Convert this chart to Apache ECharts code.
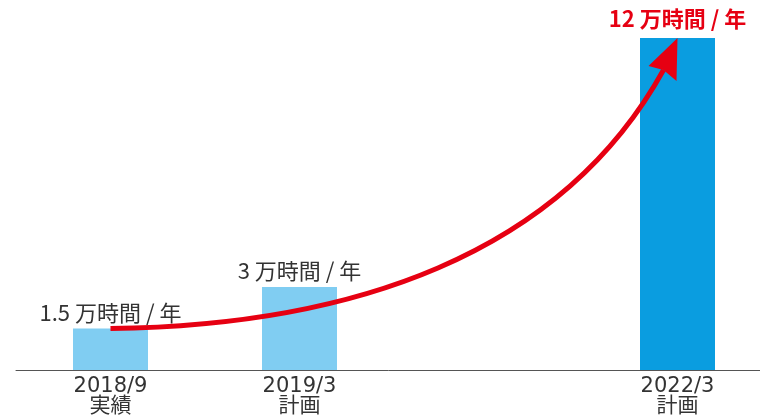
<!DOCTYPE html>
<html>
<head>
<meta charset="utf-8">
<script src="https://cdn.jsdelivr.net/npm/echarts@6/dist/echarts.min.js"></script>
<style>html,body{margin:0;padding:0;background:#fff;}#c{width:760px;height:419px;}</style>
</head>
<body>
<div id="c"></div>
<script>
var categories = ['2018/9\n実績', '2019/3\n計画', '', '2022/3\n計画'];
var values = [1.5, 3, null, 12];
var unitText = ' 万時間 / 年';
var arrowFrom = 0;
var arrowTo = 3;

var FONT = '"Noto Sans CJK JP", "Noto Sans", sans-serif';
var AXIS_FONT = '"DejaVu Sans", "Noto Sans CJK JP", sans-serif';
var barColors = ['#80cdf2', '#80cdf2', '#80cdf2', '#0a9de0'];

var chart = echarts.init(document.getElementById('c'));

var barData = values.map(function (v, i) {
  if (v === null) return null;
  var item = { value: v, itemStyle: { color: barColors[i] } };
  if (i === arrowTo) {
    item.label = { color: '#e60012', fontWeight: 'bold', distance: 8 };
  }
  return item;
});

chart.setOption({
  animation: false,
  grid: { left: 16, width: 756, top: 38, bottom: 49, containLabel: false, outerBoundsMode: 'none' },
  xAxis: {
    type: 'category',
    data: categories,
    axisLine: { lineStyle: { color: '#555', width: 1 } },
    axisTick: { show: false },
    axisLabel: { color: '#333', fontSize: 21, lineHeight: 20, margin: 7, fontFamily: AXIS_FONT, interval: 0 }
  },
  yAxis: { type: 'value', min: 0, max: 12, show: false, splitLine: { show: false } },
  series: [
    {
      type: 'bar',
      data: barData,
      barWidth: 75,
      label: {
        show: true,
        position: 'top',
        distance: 5,
        color: '#333',
        fontSize: 22,
        fontFamily: FONT,
        formatter: function (p) { return p.value + unitText; }
      }
    },
    {
      type: 'custom',
      coordinateSystem: 'cartesian2d',
      clip: false,
      z: 5,
      encode: { x: [0, 2], y: [1, 3] },
      data: [[arrowFrom, values[arrowFrom], arrowTo, values[arrowTo]]],
      renderItem: function (params, api) {
        var p0 = api.coord([api.value(0), api.value(1)]);
        var t = api.coord([api.value(2), api.value(3)]);
        var dx = t[0] - p0[0], dy = t[1] - p0[1];
        var n = [t[0] - 14, t[1] + 32];
        return {
          type: 'group',
          children: [
            {
              type: 'bezierCurve',
              shape: {
                x1: p0[0], y1: p0[1],
                cpx1: p0[0] + 0.422 * dx, cpy1: p0[1] + 0.01 * dy,
                cpx2: p0[0] + 0.793 * dx, cpy2: p0[1] + 0.249 * dy,
                x2: n[0], y2: n[1]
              },
              style: { stroke: '#e60012', lineWidth: 5, fill: null, lineCap: 'butt' }
            },
            {
              type: 'polygon',
              shape: {
                points: [
                  [t[0], t[1]],
                  [t[0] - 29, t[1] + 28],
                  [t[0] - 14, t[1] + 32],
                  [t[0] - 1, t[1] + 43]
                ]
              },
              style: { fill: '#e60012', stroke: null }
            }
          ]
        };
      }
    }
  ]
});
</script>
</body>
</html>
